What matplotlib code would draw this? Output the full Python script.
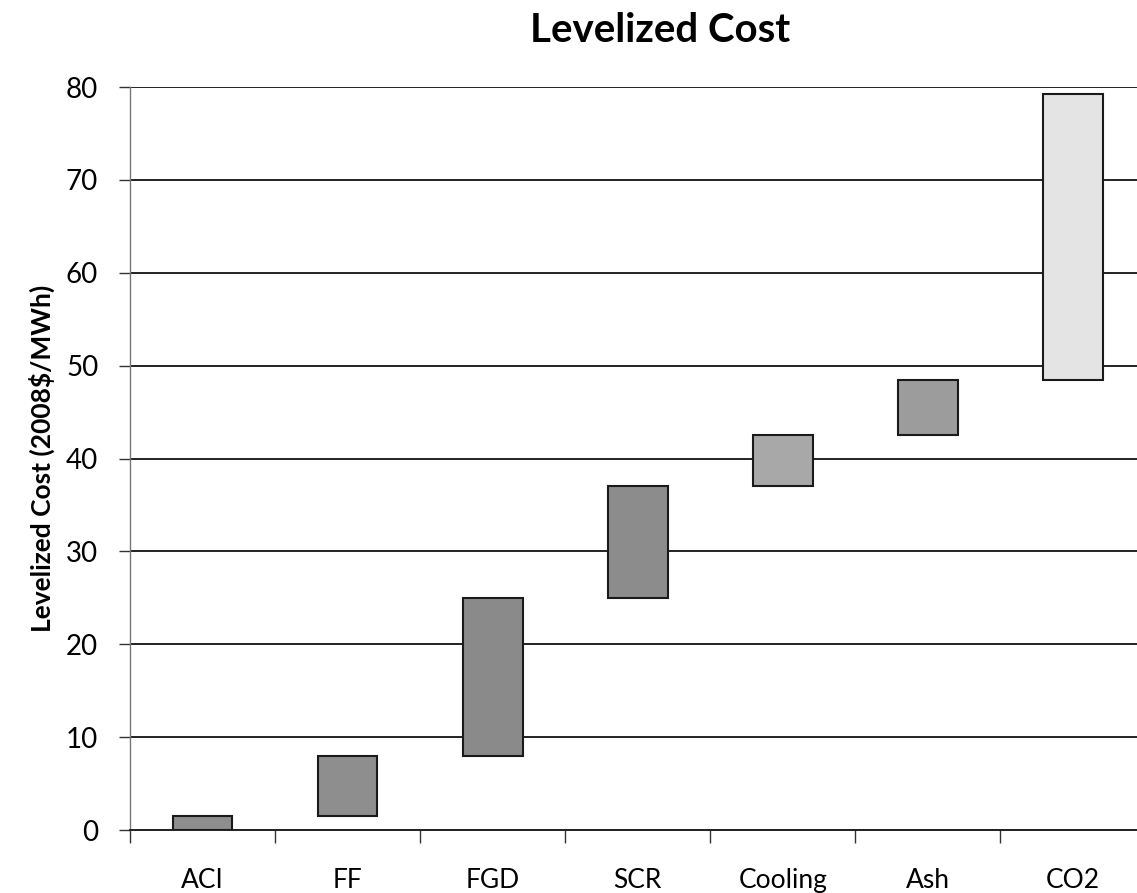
import numpy as np
import matplotlib.pyplot as plt

plt.rcParams['font.family'] = ['Lato', 'DejaVu Sans']

categories = ['ACI', 'FF', 'FGD', 'SCR', 'Cooling', 'Ash', 'CO2']
low = [0, 1.5, 8, 25, 37, 42.5, 48.5]
high = [1.5, 8, 25, 37, 42.5, 48.5, 79.3]
colors = ['#8e8e8e', '#8e8e8e', '#8a8a8a', '#8c8c8c', '#a8a8a8', '#9c9c9c', '#e4e4e4']

fig = plt.figure(figsize=(11.37, 8.93), dpi=100)
# axes run a little past the right edge, as in the scanned original
ax = fig.add_axes([0.1145, 0.0705, 0.893, 0.832])

ind = np.arange(len(categories))
heights = np.array(high) - np.array(low)
ax.bar(ind, heights, 0.41, bottom=low, color=colors, edgecolor='#1a1a1a',
       linewidth=1.5, zorder=3)

ax.set_xlim(-0.5, len(categories) - 0.5)
ax.set_ylim(0, 80)
ax.set_yticks(np.arange(0, 81, 10))
ax.yaxis.grid(True, color='#222222', linewidth=1.4, zorder=0)

# category labels centered, tick marks at the boundaries
ax.set_xticks(ind)
ax.set_xticklabels(categories, fontsize=19)
ax.tick_params(axis='x', length=0, pad=27)
ax.set_xticks(np.arange(-0.5, len(categories), 1), minor=True)
ax.tick_params(axis='x', which='minor', length=9, width=1, color='#333333')
ax.tick_params(axis='y', labelsize=20, length=8, width=1, color='#333333', pad=15)

for side in ['top', 'right']:
    ax.spines[side].set_visible(False)
ax.spines['left'].set_color('#777777')
ax.spines['left'].set_linewidth(1)
ax.spines['bottom'].set_color('#222222')
ax.spines['bottom'].set_linewidth(1.4)

ax.set_ylabel('Levelized Cost (2008$/MWh)', fontsize=19, fontweight='bold', labelpad=8)
fig.text(0.581, 0.966, 'Levelized Cost', ha='center', va='center',
         fontsize=29, fontweight='bold')

plt.savefig('out.png', dpi=100, facecolor='w')
